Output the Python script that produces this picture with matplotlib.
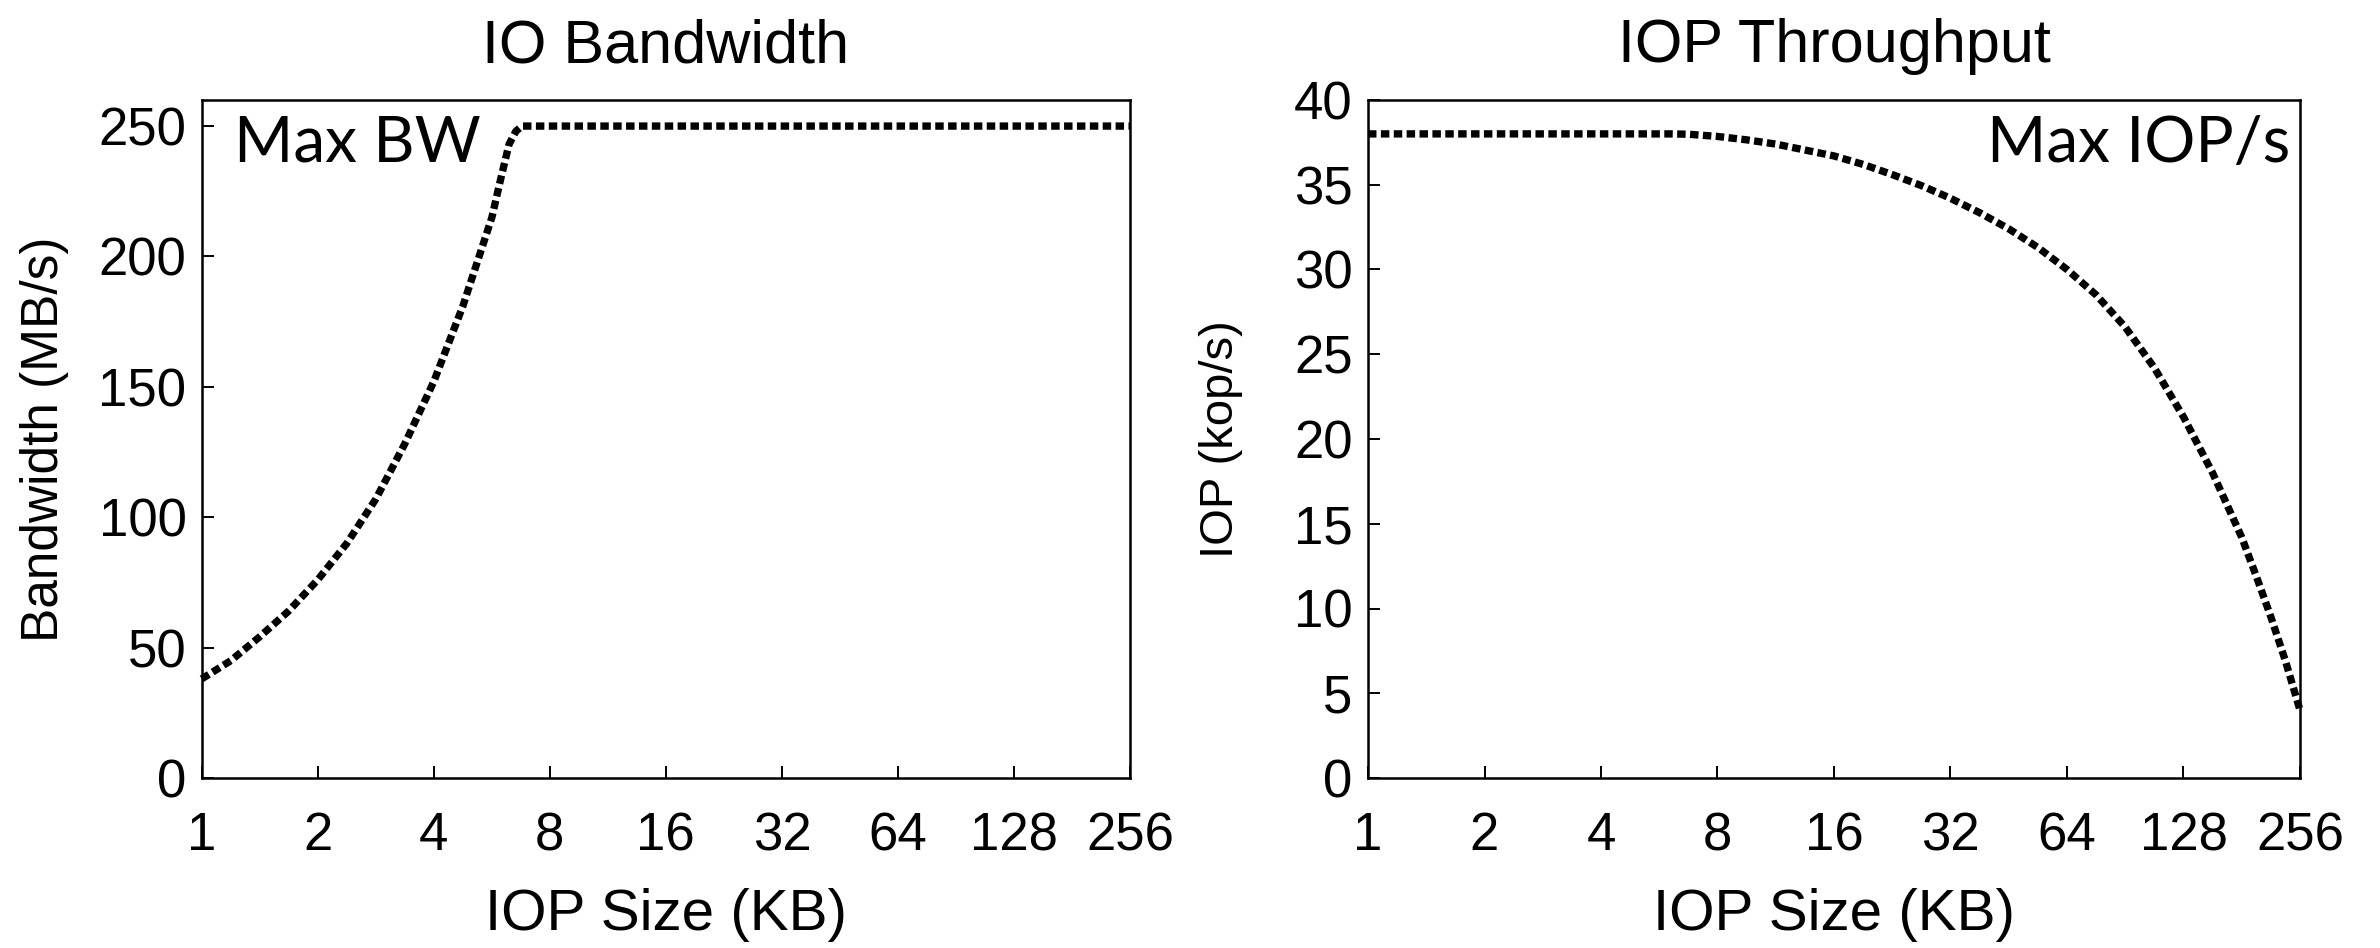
import matplotlib
matplotlib.use("Agg")
import matplotlib.pyplot as plt

plt.rcParams['font.family'] = ['Liberation Sans', 'DejaVu Sans']

# ---- data ----
bw_size_kb = [1, 1.19, 1.41, 1.68, 2, 2.38, 2.83, 3.36, 4, 4.76, 5.66, 5.95, 6.27,
              6.53, 6.77, 8, 16, 32, 64, 128, 256]
bw_mbps = [38, 45, 54, 64, 76, 90, 107, 128, 152, 181, 215, 229, 243,
           248, 250, 250, 250, 250, 250, 250, 250]

iop_size_kb = [1, 2, 4, 6.06, 6.73, 8, 9.51, 11.31, 13.45, 16, 19.03, 22.63, 26.91,
               32, 38.05, 45.25, 53.82, 64, 76.11, 90.51, 107.6, 128, 152.2, 181,
               197.4, 215.3, 234.8, 256]
iop_kops = [38, 38, 38, 38, 37.98, 37.85, 37.65, 37.4, 37.05, 36.7, 36.2, 35.6, 34.95,
            34.2, 33.35, 32.4, 31.3, 30.0, 28.5, 26.6, 24.2, 21.3, 18.0, 14.2,
            11.9, 9.5, 6.9, 4.0]

xticks = [1, 2, 4, 8, 16, 32, 64, 128, 256]
xtick_labels = ['1', '2', '4', '8', '16', '32', '64', '128', '256']
bw_yticks = [0, 50, 100, 150, 200, 250]
iop_yticks = [0, 5, 10, 15, 20, 25, 30, 35, 40]

titles = ['IO Bandwidth', 'IOP Throughput']
ylabels = ['Bandwidth (MB/s)', 'IOP (kop/s)']
xlabel = 'IOP Size (KB)'
notes = ['Max BW', 'Max IOP/s']

# ---- figure ----
W, H, DPI = 2380, 948, 100
fig = plt.figure(figsize=(W / DPI, H / DPI), dpi=DPI)
bottom = (H - 778) / H
height = (778 - 100) / H
ax1 = fig.add_axes([201.7 / W, bottom, (1130 - 201.7) / W, height])
ax2 = fig.add_axes([1368 / W, bottom, (2300 - 1368) / W, height])

line_kw = dict(color='black', lw=5.3, linestyle=(0, (1.15, 0.6)),
               dash_capstyle='butt', solid_capstyle='butt', clip_on=False)

ax1.plot(bw_size_kb, bw_mbps, **line_kw)
ax2.plot(iop_size_kb, iop_kops, **line_kw)

cfg = [(ax1, bw_yticks, (0, 260), titles[0], ylabels[0], 37, -0.143),
       (ax2, iop_yticks, (0, 40), titles[1], ylabels[1], 34, -0.134)]
for ax, yt, ylim, title, ylab, ylsize, ylx in cfg:
    ax.set_xscale('log', base=2)
    ax.set_xlim(1, 256)
    ax.set_ylim(*ylim)
    ax.set_xticks(xticks)
    ax.set_xticklabels(xtick_labels)
    ax.minorticks_off()
    ax.set_yticks(yt)
    ax.tick_params(axis='both', direction='in', length=8.5, width=1.4,
                   labelsize=38, top=False, right=False)
    ax.tick_params(axis='x', pad=24)
    ax.tick_params(axis='y', pad=11)
    for s in ax.spines.values():
        s.set_linewidth(1.8)
    ax.set_title(title, fontsize=44, pad=27)
    ax.set_xlabel(xlabel, fontsize=42)
    ax.xaxis.set_label_coords(0.5, -0.162)
    ax.set_ylabel(ylab, fontsize=ylsize)
    ax.yaxis.set_label_coords(ylx, 0.5)

ax1.text(0.035, 0.978, notes[0], transform=ax1.transAxes, ha='left', va='top',
         fontsize=46, family=['Lato', 'DejaVu Sans'])
ax2.text(0.99, 0.978, notes[1], transform=ax2.transAxes, ha='right', va='top',
         fontsize=46, family=['Lato', 'DejaVu Sans'])

fig.savefig('out.png', dpi=DPI)
